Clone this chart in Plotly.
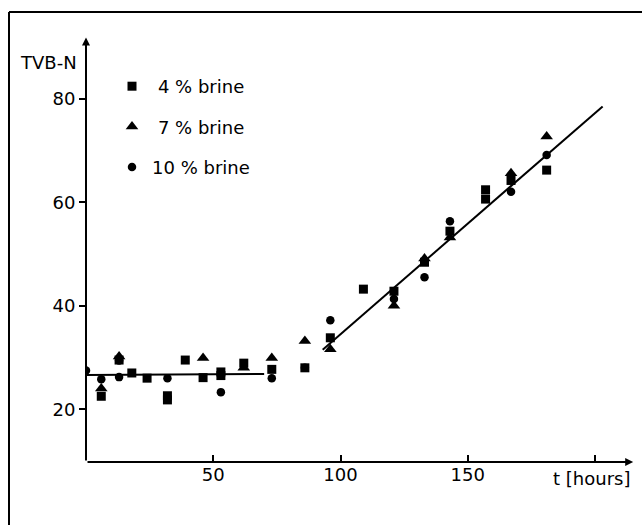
import plotly.graph_objects as go

# ---- data ----
t_4 = [6, 13, 18, 24, 32, 32, 39, 46, 53, 53, 62, 73, 86, 96, 109, 121, 133, 143, 157, 157, 167, 181]
v_4 = [22.5, 29.5, 27.0, 26.0, 21.8, 22.6, 29.5, 26.1, 26.5, 27.2, 28.9, 27.7, 28.0, 33.8, 43.2, 42.8, 48.4, 54.4, 62.4, 60.6, 64.2, 66.2]

t_7 = [6, 13, 46, 62, 73, 86, 96, 121, 133, 143, 167, 181]
v_7 = [24.0, 30.2, 29.9, 28.0, 29.9, 33.2, 31.6, 40.0, 49.1, 53.2, 65.6, 72.7]

t_10 = [0, 6, 13, 13, 32, 53, 73, 86, 96, 121, 133, 143, 167, 181]
v_10 = [27.5, 25.8, 26.2, 29.4, 26.0, 23.3, 26.0, 28.0, 37.2, 41.3, 45.5, 56.3, 62.0, 69.1]

plateau_t = [0, 70]
plateau_v = [26.6, 26.8]
trend_t = [93, 203]
trend_v = [31.5, 78.5]

x_tickvals = [50, 100, 150, 200]
x_ticktext = ["50", "100", "150", ""]
y_tickvals = [20, 40, 60, 80]

x_axis_end = 215
y_axis_min, y_axis_end = 9.8, 91.8

series_names = ["\u20044 % brine", "\u20047 % brine", "10 % brine"]

FONT = "DejaVu Sans"

# plot area in page pixels
L, B = 86, 462
W, H = 551, 428

def px(xp):
    return (xp - L) / W

def py(yp):
    return (B - yp) / H

fig = go.Figure()

for t, v, sym, size, name in [
    (t_4, v_4, "square", 9, series_names[0]),
    (t_7, v_7, "triangle-up", 11, series_names[1]),
    (t_10, v_10, "circle", 8.5, series_names[2]),
]:
    fig.add_trace(go.Scatter(
        x=t, y=v, mode="markers", name=name, legendgroup=name,
        marker=dict(symbol=sym, size=size, color="black", line=dict(width=0)),
    ))

fig.add_trace(go.Scatter(x=plateau_t, y=plateau_v, mode="lines",
                         line=dict(color="black", width=2), showlegend=False, hoverinfo="skip"))
fig.add_trace(go.Scatter(x=trend_t, y=trend_v, mode="lines",
                         line=dict(color="black", width=2), showlegend=False, hoverinfo="skip"))

fig.update_layout(
    width=642, height=525,
    margin=dict(l=L, r=642 - L - W, t=B - H, b=525 - B),
    paper_bgcolor="white", plot_bgcolor="white",
    font=dict(family=FONT, size=18, color="black"),
    showlegend=True,
    legend=dict(x=px(112), y=py(68), xanchor="left", yanchor="top",
                bgcolor="rgba(0,0,0,0)", font=dict(size=18, family=FONT),
                tracegroupgap=14, itemwidth=30),
    xaxis=dict(range=[0, 216.5], showgrid=False, zeroline=False, showline=False,
               tickvals=x_tickvals, ticktext=x_ticktext,
               ticks="inside", ticklen=7, tickwidth=1.5, tickcolor="black",
               tickfont=dict(size=18, family=FONT)),
    yaxis=dict(range=[y_axis_min, 92.5], showgrid=False, zeroline=False, showline=False,
               tickvals=y_tickvals,
               ticks="outside", ticklen=6, tickwidth=1.5, tickcolor="black",
               tickfont=dict(size=18, family=FONT)),
)

# axes drawn as arrows
fig.add_annotation(x=0, y=y_axis_end, ax=0, ay=y_axis_min, xref="x", yref="y", axref="x", ayref="y",
                   showarrow=True, arrowhead=2, arrowsize=0.8, arrowwidth=2, arrowcolor="black", text="")
fig.add_annotation(x=x_axis_end, y=y_axis_min, ax=0, ay=y_axis_min, xref="x", yref="y", axref="x", ayref="y",
                   showarrow=True, arrowhead=2, arrowsize=0.8, arrowwidth=2, arrowcolor="black", text="")

# axis titles
fig.add_annotation(text="TVB-N", xref="paper", yref="paper",
                   x=px(79), y=py(62), xanchor="right", yanchor="middle",
                   showarrow=False, font=dict(size=18, family=FONT))
fig.add_annotation(text="t [hours]", xref="paper", yref="paper",
                   x=px(551), y=py(479), xanchor="left", yanchor="middle",
                   showarrow=False, font=dict(size=18, family=FONT))

# outer frame (left and top borders)
fig.add_shape(type="line", xref="paper", yref="paper", x0=px(9), x1=px(9), y0=py(525), y1=py(12),
              line=dict(color="black", width=2))
fig.add_shape(type="line", xref="paper", yref="paper", x0=px(9), x1=px(642), y0=py(12), y1=py(12),
              line=dict(color="black", width=2))

fig.write_html("out.html", config={"displayModeBar": False},
               post_script="document.body.style.margin='0px';")
